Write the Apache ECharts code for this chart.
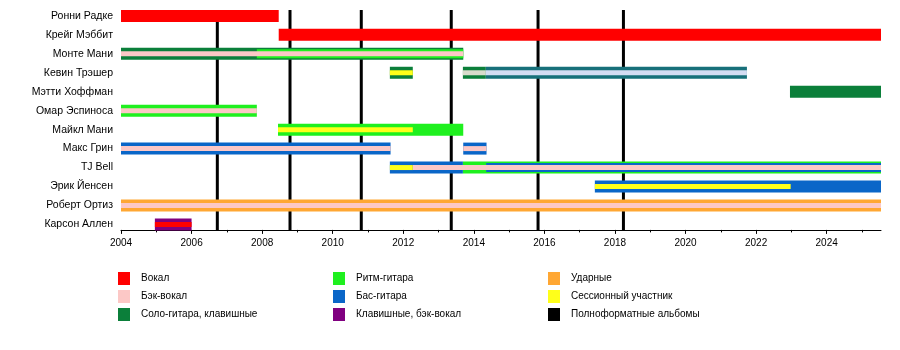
<!DOCTYPE html>
<html>
<head>
<meta charset="utf-8">
<script src="https://cdn.jsdelivr.net/npm/echarts@6/dist/echarts.min.js"></script>
<style>html,body{margin:0;padding:0;background:#fff}#c{width:900px;height:350px}</style>
</head>
<body>
<div id="c"></div>
<script>
// ---- data ----
const members = ['Ронни Радке','Крейг Мэббит','Монте Мани','Кевин Трэшер','Мэтти Хоффман','Омар Эспиноса','Майкл Мани','Макс Грин','TJ Bell','Эрик Йенсен','Роберт Ортиз','Карсон Аллен'];
const axisStart = 2004;
const axisEnd = 2025.54;
const majorTickYears = [2004,2006,2008,2010,2012,2014,2016,2018,2020,2022,2024];
const minorTickYears = [2005,2007,2009,2011,2013,2015,2017,2019,2021,2023,2025];
const albumDates = [2006.73, 2008.79, 2010.81, 2013.36, 2015.82, 2018.24];

// [member, start, end, role]
const mainBars = [
  ['Ронни Радке', 2004, 2008.47, 'vocal'],
  ['Крейг Мэббит', 2008.47, 2025.54, 'vocal'],
  ['Монте Мани', 2004, 2013.70, 'lead'],
  ['Кевин Трэшер', 2011.62, 2012.27, 'lead'],
  ['Кевин Трэшер', 2013.69, 2014.34, 'lead'],
  ['Кевин Трэшер', 2014.34, 2021.74, 'leadLate'],
  ['Мэтти Хоффман', 2022.96, 2025.54, 'lead'],
  ['Омар Эспиноса', 2004, 2007.85, 'rhythm'],
  ['Майкл Мани', 2008.45, 2013.70, 'rhythm'],
  ['Макс Грин', 2004, 2011.64, 'bass'],
  ['Макс Грин', 2013.70, 2014.36, 'bass'],
  ['TJ Bell', 2011.62, 2013.69, 'bass'],
  ['TJ Bell', 2013.69, 2025.54, 'rhythm'],
  ['Эрик Йенсен', 2017.43, 2025.54, 'bass'],
  ['Роберт Ортиз', 2004, 2025.54, 'drums'],
  ['Карсон Аллен', 2004.96, 2006.0, 'keys']
];
const innerBars = [
  ['Монте Мани', 2007.85, 2013.70, 'rhythm'],
  ['TJ Bell', 2014.35, 2025.54, 'bass']
];
const centreBars = [
  ['Монте Мани', 2004, 2013.70, 'backing'],
  ['Кевин Трэшер', 2011.62, 2012.27, 'session'],
  ['Кевин Трэшер', 2013.69, 2014.34, 'backingLate'],
  ['Кевин Трэшер', 2014.34, 2021.74, 'backingPale'],
  ['Омар Эспиноса', 2004, 2007.85, 'backing'],
  ['Майкл Мани', 2008.45, 2012.27, 'session'],
  ['Макс Грин', 2004, 2011.64, 'backing'],
  ['Макс Грин', 2013.70, 2014.36, 'backing'],
  ['TJ Bell', 2011.62, 2012.27, 'session'],
  ['TJ Bell', 2012.27, 2025.54, 'backing'],
  ['Эрик Йенсен', 2017.43, 2022.98, 'session'],
  ['Роберт Ортиз', 2004, 2025.54, 'backing'],
  ['Карсон Аллен', 2004.96, 2006.0, 'vocal']
];

// ---- styles ----
const roles = [
  {key:'vocal', name:'Вокал', color:'#ff0000'},
  {key:'backing', name:'Бэк-вокал', color:'#fcc8c6'},
  {key:'lead', name:'Соло-гитара, клавишные', color:'#0b7f3a'},
  {key:'rhythm', name:'Ритм-гитара', color:'#1ff01f'},
  {key:'bass', name:'Бас-гитара', color:'#0a66c8'},
  {key:'keys', name:'Клавишные, бэк-вокал', color:'#800080'},
  {key:'drums', name:'Ударные', color:'#ffa733'},
  {key:'session', name:'Сессионный участник', color:'#ffff1a'},
  {key:'leadLate', name:'leadLate', color:'#17707a'},
  {key:'backingLate', name:'backingLate', color:'#d8dccb'},
  {key:'backingPale', name:'backingPale', color:'#d4ddf3'}
];
const layerHeight = [12, 9, 5];
const albumName = 'Полноформатные альбомы';

const layers = [mainBars, innerBars, centreBars];
const series = [];
series.push({
  type:'custom', name: albumName, z:1,
  itemStyle:{color:'#000'},
  data: albumDates.map(d => [d, 0]),
  encode:{x:0, y:1},
  renderItem:(params, api) => {
    const p = api.coord([api.value(0), 0]);
    const cs = params.coordSys;
    return {type:'line', shape:{x1:p[0], y1:cs.y+3.6, x2:p[0], y2:cs.y+cs.height-3.9},
      style:{stroke:'#000', lineWidth:3}};
  }
});
roles.forEach(r => {
  const data = [];
  layers.forEach((arr, li) => arr.forEach(b => {
    if (b[3] === r.key) data.push([b[1], b[2], members.indexOf(b[0]), li]);
  }));
  series.push({
    type:'custom', name:r.name, z:2,
    itemStyle:{color:r.color},
    encode:{x:[0,1], y:2},
    data,
    renderItem:(params, api) => {
      const s = api.coord([api.value(0), api.value(2)]);
      const e = api.coord([api.value(1), api.value(2)]);
      const li = api.value(3);
      const h = layerHeight[li];
      return {type:'rect', z2: li,
        shape:{x:s[0], y:s[1]-h/2, width:e[0]-s[0], height:h},
        style:{fill:r.color}};
    }
  });
});

const legendText = {fontSize:10, color:'#000', fontFamily:'Liberation Sans', padding:[0,0,0,6]};
function legendCol(names, left) {
  return {orient:'vertical', left, top:272, padding:0, itemWidth:12, itemHeight:13, itemGap:5,
    icon:'rect', selectedMode:false, data:names, textStyle:legendText};
}

const chart = echarts.init(document.getElementById('c'), null, {renderer:'canvas'});
chart.setOption({
  animation:false,
  backgroundColor:'#fff',
  grid:{left:121, right:19, top:6.42, bottom:116.1, containLabel:false},
  xAxis:[{
    type:'value', min:axisStart, max:axisEnd, offset:-4,
    axisLine:{show:true, lineStyle:{color:'#000', width:1}},
    axisTick:{show:true, customValues:majorTickYears, length:4, lineStyle:{color:'#000'}},
    axisLabel:{customValues:majorTickYears, formatter:v => String(v), fontSize:10, color:'#000', margin:8, fontFamily:'Liberation Sans'},
    splitLine:{show:false}
  },{
    type:'value', min:axisStart, max:axisEnd, offset:-4, position:'bottom',
    axisLine:{show:false},
    axisTick:{show:true, customValues:minorTickYears, length:2.5, lineStyle:{color:'#000'}},
    axisLabel:{show:false},
    splitLine:{show:false}
  }],
  yAxis:{
    type:'category', data:members, inverse:true,
    axisLine:{show:false}, axisTick:{show:false}, splitLine:{show:false},
    axisLabel:{fontSize:10.5, color:'#000', margin:8, fontFamily:'Liberation Sans'}
  },
  legend:[
    legendCol(['Вокал','Бэк-вокал','Соло-гитара, клавишные'], 118),
    legendCol(['Ритм-гитара','Бас-гитара','Клавишные, бэк-вокал'], 333),
    legendCol(['Ударные','Сессионный участник', albumName], 548)
  ],
  series
});
</script>
</body>
</html>
